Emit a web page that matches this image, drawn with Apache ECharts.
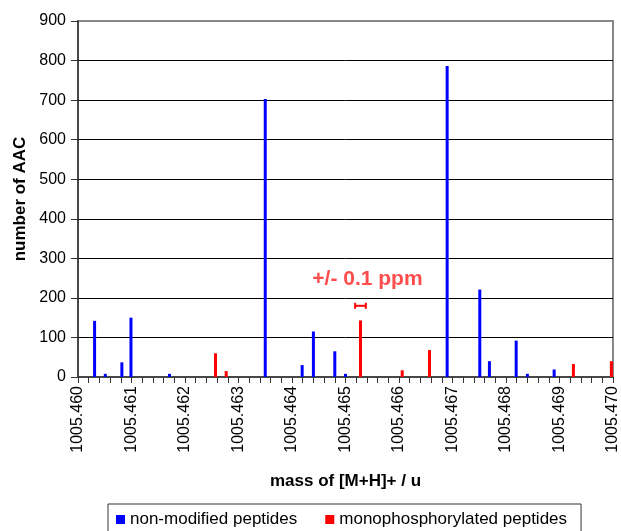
<!DOCTYPE html>
<html>
<head>
<meta charset="utf-8">
<script src="https://cdn.jsdelivr.net/npm/echarts@6/dist/echarts.min.js"></script>
<style>
  html, body { margin: 0; padding: 0; background: #fff; }
  #chart { width: 621px; height: 531px; }
</style>
</head>
<body>
<div id="chart"></div>
<script>
// peak positions (mass of [M+H]+) and counts
const blueMass = [1005.46031, 1005.46051, 1005.46082, 1005.46099, 1005.46171, 1005.46350, 1005.46419, 1005.46440,
  1005.46480, 1005.46500, 1005.46690, 1005.46751, 1005.46769, 1005.46819, 1005.46840, 1005.46890]
const blueCount = [142, 8, 37, 150, 8, 703, 30, 115, 65, 8, 786, 221, 40, 92, 8, 19]
const redMass = [1005.46257, 1005.46277, 1005.46528, 1005.46606, 1005.46657, 1005.46926, 1005.46997]
const redCount = [60, 15, 143, 17, 68, 33, 40]
// +/- 0.1 ppm bracket
const errCenter = 1005.46528
const errHalf = 0.0001
const errLevel = 180
const errText = '+/- 0.1 ppm'

const seriesNames = ['non-modified peptides', 'monophosphorylated peptides']
const font = '"Liberation Sans", Arial, sans-serif'

const chart = echarts.init(document.getElementById('chart'))
chart.setOption({
  animation: false,
  textStyle: { fontFamily: font },
  grid: {
    left: 78, right: 8, top: 21, bottom: 154,
    outerBoundsMode: 'none',
    containLabel: false,
    show: true, borderColor: '#888', borderWidth: 2, backgroundColor: 'transparent'
  },
  legend: {
    data: seriesNames,
    left: 108, top: 504,
    padding: [7, 14, 8, 8],
    borderColor: '#333', borderWidth: 1,
    itemWidth: 9, itemHeight: 9, itemGap: 28,
    icon: 'rect',
    textStyle: { fontSize: 17, color: '#000', fontFamily: font }
  },
  xAxis: {
    type: 'value',
    min: 1005.460, max: 1005.470, interval: 0.001,
    name: 'mass of [M+H]+ / u',
    nameLocation: 'middle', nameGap: 96,
    nameTextStyle: { fontSize: 17, fontWeight: 'bold', color: '#000' },
    axisLine: { lineStyle: { color: '#333', width: 1.5 } },
    axisTick: { inside: false, length: 6, lineStyle: { color: '#333' } },
    minorTick: { show: true, splitNumber: 5, length: 6, lineStyle: { color: '#333' } },
    splitLine: { show: false },
    axisLabel: {
      rotate: 90, fontSize: 16, color: '#000', margin: 9,
      formatter: v => v.toFixed(3)
    }
  },
  yAxis: {
    type: 'value',
    min: 0, max: 900, interval: 100,
    name: 'number of AAC',
    nameLocation: 'middle', nameGap: 49,
    nameTextStyle: { fontSize: 17, fontWeight: 'bold', color: '#000' },
    axisLine: { show: true, lineStyle: { color: '#333', width: 1.5 } },
    axisTick: { show: true, length: 7, lineStyle: { color: '#333' } },
    axisLabel: { fontSize: 16, color: '#000', margin: 12 },
    splitLine: { show: true, showMinLine: false, showMaxLine: false, lineStyle: { color: '#000', width: 1 } }
  },
  series: [
    {
      name: seriesNames[0],
      type: 'bar',
      barWidth: 3,
      barGap: '-100%',
      itemStyle: { color: '#0000ff' },
      data: blueMass.map((m, i) => [m, blueCount[i]])
    },
    {
      name: seriesNames[1],
      type: 'bar',
      barWidth: 3,
      barGap: '-100%',
      itemStyle: { color: '#ff0000' },
      data: redMass.map((m, i) => [m, redCount[i]])
    },
    {
      type: 'custom',
      silent: true,
      data: [[errCenter - errHalf, errCenter + errHalf, errLevel]],
      renderItem(params, api) {
        const a = api.coord([api.value(0), api.value(2)])
        const b = api.coord([api.value(1), api.value(2)])
        const style = { stroke: '#ff0000', lineWidth: 2 }
        return {
          type: 'group',
          children: [
            { type: 'line', shape: { x1: a[0], y1: a[1], x2: b[0], y2: b[1] }, style },
            { type: 'line', shape: { x1: a[0], y1: a[1] - 3, x2: a[0], y2: a[1] + 3 }, style },
            { type: 'line', shape: { x1: b[0], y1: b[1] - 3, x2: b[0], y2: b[1] + 3 }, style },
            {
              type: 'text',
              style: {
                x: (a[0] + b[0]) / 2 + 7, y: a[1] - 27,
                text: errText, fill: '#ff4d4d',
                font: 'bold 21px ' + font,
                align: 'center', verticalAlign: 'middle'
              }
            }
          ]
        }
      }
    }
  ]
})
</script>
</body>
</html>
